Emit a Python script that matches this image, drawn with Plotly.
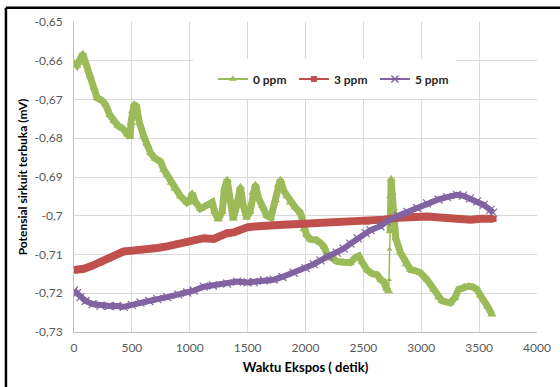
import plotly.graph_objects as go

# ---------------- data ----------------
series_names = ["0 ppm", "3 ppm", "5 ppm"]

# 0 ppm, part before the sudden jump near 2720 s
t_0ppm_a = [0, 25, 50, 76, 100, 140, 175, 200, 240, 272, 310, 344, 380, 420, 460, 485,
            492, 505, 520, 540, 565, 603, 630, 661, 700, 747, 776, 805, 840, 870, 920,
            977, 1000, 1021, 1050, 1092, 1140, 1194, 1215, 1245, 1280, 1300, 1323, 1345,
            1375, 1405, 1438, 1460, 1490, 1520, 1545, 1567, 1595, 1630, 1665, 1700, 1740,
            1765, 1783, 1810, 1840, 1870, 1910, 1955, 1985, 2010, 2042, 2090, 2129, 2160,
            2186, 2230, 2273, 2330, 2388, 2430, 2460, 2490, 2532, 2580, 2618, 2650, 2676,
            2700, 2719]
v_0ppm_a = [-0.6605, -0.6612, -0.6598, -0.6582, -0.6605, -0.6640, -0.6670, -0.6696, -0.6702,
            -0.6713, -0.6740, -0.6756, -0.6768, -0.6775, -0.6790, -0.6797, -0.6760, -0.6730,
            -0.6712, -0.6718, -0.6760, -0.6795, -0.6815, -0.6838, -0.6852, -0.6860, -0.6881,
            -0.6895, -0.6915, -0.6930, -0.6950, -0.6966, -0.6962, -0.6942, -0.6965, -0.6982,
            -0.6975, -0.6965, -0.6990, -0.7010, -0.6990, -0.6930, -0.6907, -0.6960, -0.7008,
            -0.6975, -0.6926, -0.6970, -0.7005, -0.6990, -0.6940, -0.6920, -0.6955, -0.6975,
            -0.7000, -0.7005, -0.6960, -0.6920, -0.6907, -0.6935, -0.6950, -0.6966, -0.6978,
            -0.6992, -0.7035, -0.7050, -0.7061, -0.7062, -0.7070, -0.7080, -0.7100, -0.7110,
            -0.7118, -0.7120, -0.7121, -0.7108, -0.7104, -0.7120, -0.7140, -0.7150, -0.7152,
            -0.7165, -0.7170, -0.7188, -0.7195]
# 0 ppm, sparse points of the jump
t_0ppm_jump = [2719, 2722, 2725, 2731]
v_0ppm_jump = [-0.7195, -0.7165, -0.7087, -0.7040]
# 0 ppm, part after the jump
t_0ppm_b = [2731, 2735, 2740, 2748, 2758, 2768, 2780, 2820, 2870, 2906, 2950, 2992, 3050,
            3107, 3150, 3180, 3251, 3290, 3323, 3370, 3409, 3450, 3482, 3510, 3539, 3575,
            3611]
v_0ppm_b = [-0.7040, -0.6950, -0.6905, -0.6940, -0.6980, -0.7030, -0.7058, -0.7095, -0.7125,
            -0.7139, -0.7142, -0.7147, -0.7165, -0.7190, -0.7210, -0.7220, -0.7225, -0.7212,
            -0.7190, -0.7183, -0.7182, -0.7184, -0.7190, -0.7205, -0.7216, -0.7235, -0.7255]

t_3ppm = [0, 40, 85, 150, 229, 300, 373, 430, 500, 574, 650, 720, 805, 900, 977, 1060, 1121,
          1207, 1260, 1323, 1380, 1440, 1496, 1560, 1620, 1697, 1800, 1900, 1985, 2100, 2200,
          2273, 2400, 2532, 2676, 2800, 2900, 2964, 3050, 3194, 3300, 3424, 3520, 3625]
v_3ppm = [-0.7140, -0.7140, -0.7137, -0.7130, -0.7120, -0.7110, -0.7100, -0.7092, -0.7090,
          -0.7089, -0.7085, -0.7083, -0.7079, -0.7072, -0.7068, -0.7062, -0.7058, -0.7060,
          -0.7052, -0.7045, -0.7043, -0.7036, -0.7030, -0.7028, -0.7026, -0.7025, -0.7023,
          -0.7022, -0.7021, -0.7019, -0.7017, -0.7016, -0.7016, -0.7015, -0.7010, -0.7005,
          -0.7002, -0.7001, -0.7002, -0.7005, -0.7008, -0.7010, -0.7008, -0.7008]

t_5ppm = [0, 25, 56, 100, 160, 229, 300, 370, 430, 500, 574, 650, 720, 805, 900, 977, 1035,
          1121, 1200, 1323, 1409, 1500, 1553, 1640, 1726, 1800, 1898, 2000, 2071, 2129, 2200,
          2270, 2330, 2388, 2450, 2520, 2561, 2647, 2700, 2800, 2880, 2964, 3050, 3150, 3223,
          3309, 3360, 3420, 3482, 3540, 3597, 3620]
v_5ppm = [-0.7193, -0.7200, -0.7210, -0.7220, -0.7228, -0.7232, -0.7233, -0.7233, -0.7235,
          -0.7230, -0.7224, -0.7220, -0.7215, -0.7210, -0.7203, -0.7198, -0.7193, -0.7183,
          -0.7180, -0.7175, -0.7170, -0.7172, -0.7171, -0.7167, -0.7165, -0.7158, -0.7147,
          -0.7135, -0.7125, -0.7115, -0.7105, -0.7095, -0.7085, -0.7072, -0.7058, -0.7045,
          -0.7037, -0.7027, -0.7015, -0.7000, -0.6990, -0.6980, -0.6968, -0.6958, -0.6952,
          -0.6946, -0.6948, -0.6955, -0.6963, -0.6972, -0.6985, -0.6992]

x_ticks = [0, 500, 1000, 1500, 2000, 2500, 3000, 3500, 4000]
x_tick_labels = ["0", "500", "1000", "1500", "2000", "2500", "3000", "3500", "4000"]
y_ticks = [-0.65, -0.66, -0.67, -0.68, -0.69, -0.70, -0.71, -0.72, -0.73]
y_tick_labels = ["-0,65", "-0,66", "-0,67", "-0,68", "-0,69", "-0,7", "-0,71", "-0,72", "-0,73"]

x_title = "Waktu Ekspos ( detik)"
y_title = "Potensial sirkuit terbuka (mV)"

# ---------------- styling ----------------
GREEN = "#9BBB59"
RED = "#C0504D"
PURPLE = "#8064A2"
FONT = "Lato, 'Open Sans', sans-serif"

fig = go.Figure()

# data traces (thick bands of dense markers in the original)
fig.add_trace(go.Scatter(x=t_0ppm_a, y=v_0ppm_a, mode="lines+markers", showlegend=False,
                         line=dict(color=GREEN, width=7),
                         marker=dict(symbol="triangle-up", size=8, color=GREEN)))
fig.add_trace(go.Scatter(x=t_0ppm_jump, y=v_0ppm_jump, mode="lines+markers", showlegend=False,
                         line=dict(color=GREEN, width=1.5),
                         marker=dict(symbol="triangle-up", size=5, color=GREEN)))
fig.add_trace(go.Scatter(x=t_0ppm_b, y=v_0ppm_b, mode="lines+markers", showlegend=False,
                         line=dict(color=GREEN, width=7),
                         marker=dict(symbol="triangle-up", size=8, color=GREEN)))
fig.add_trace(go.Scatter(x=t_3ppm, y=v_3ppm, mode="lines+markers", showlegend=False,
                         line=dict(color=RED, width=8),
                         marker=dict(symbol="square", size=6, color=RED)))
fig.add_trace(go.Scatter(x=t_5ppm, y=v_5ppm, mode="lines+markers", showlegend=False,
                         line=dict(color=PURPLE, width=6),
                         marker=dict(symbol="x-thin-open", size=8,
                                     line=dict(color=PURPLE, width=1.2))))

# legend entries (thin line + marker, as in the original legend)
legend_styles = [
    dict(color=GREEN, marker=dict(symbol="triangle-up", size=7, color=GREEN)),
    dict(color=RED, marker=dict(symbol="square", size=6, color=RED)),
    dict(color=PURPLE, marker=dict(symbol="x-thin-open", size=7,
                                   line=dict(color=PURPLE, width=1.5))),
]
for name, st in zip(series_names, legend_styles):
    fig.add_trace(go.Scatter(x=[None], y=[None], mode="lines+markers", name=name,
                             line=dict(color=st["color"], width=2), marker=st["marker"]))

# white area behind the legend (hides the grid there, as in the original)
fig.add_shape(type="rect", xref="paper", yref="paper", x0=0.257, x1=0.825,
              y0=0.752, y1=0.881, fillcolor="white", line=dict(width=0), layer="above")

# black frame of the original image (left and top edges visible)
fig.add_shape(type="line", xref="paper", yref="paper", x0=-0.147, x1=-0.147,
              y0=-0.4, y1=1.046, line=dict(color="black", width=2.5))
fig.add_shape(type="line", xref="paper", yref="paper", x0=-0.147, x1=1.2,
              y0=1.046, y1=1.046, line=dict(color="black", width=2.5))

fig.update_layout(
    width=560, height=387,
    margin=dict(l=74, r=23, t=22, b=55, autoexpand=False),
    paper_bgcolor="white", plot_bgcolor="white",
    font=dict(family=FONT, size=12, color="#595959"),
    showlegend=True,
    legend=dict(orientation="h", x=0.30, xanchor="left", y=0.816, yanchor="middle",
                bgcolor="rgba(0,0,0,0)", entrywidth=36, entrywidthmode="pixels",
                itemwidth=30,
                font=dict(family=FONT, size=12, color="#262626", weight="bold")),
)
fig.update_xaxes(range=[0, 4000], tickvals=x_ticks, ticktext=x_tick_labels,
                 automargin=False, ticklabelstandoff=5,
                 showgrid=True, gridcolor="#D9D9D9", gridwidth=1,
                 showline=True, linecolor="#BFBFBF", linewidth=1, zeroline=False,
                 ticks="", tickfont=dict(size=12, color="#595959"),
                 title=dict(text=x_title, standoff=8,
                            font=dict(family=FONT, size=13, color="black", weight="bold")))
fig.update_yaxes(range=[-0.73, -0.65], tickvals=y_ticks, ticktext=y_tick_labels,
                 automargin=False, ticklabelstandoff=8,
                 showgrid=True, gridcolor="#D9D9D9", gridwidth=1,
                 showline=True, linecolor="#BFBFBF", linewidth=1, zeroline=False,
                 ticks="", tickfont=dict(size=12, color="#595959"),
                 title=dict(text=y_title, standoff=4,
                            font=dict(family=FONT, size=12, color="black", weight="bold")))

fig.write_html("out.html", config={"displayModeBar": False},
               post_script="document.body.style.margin='0px';")
